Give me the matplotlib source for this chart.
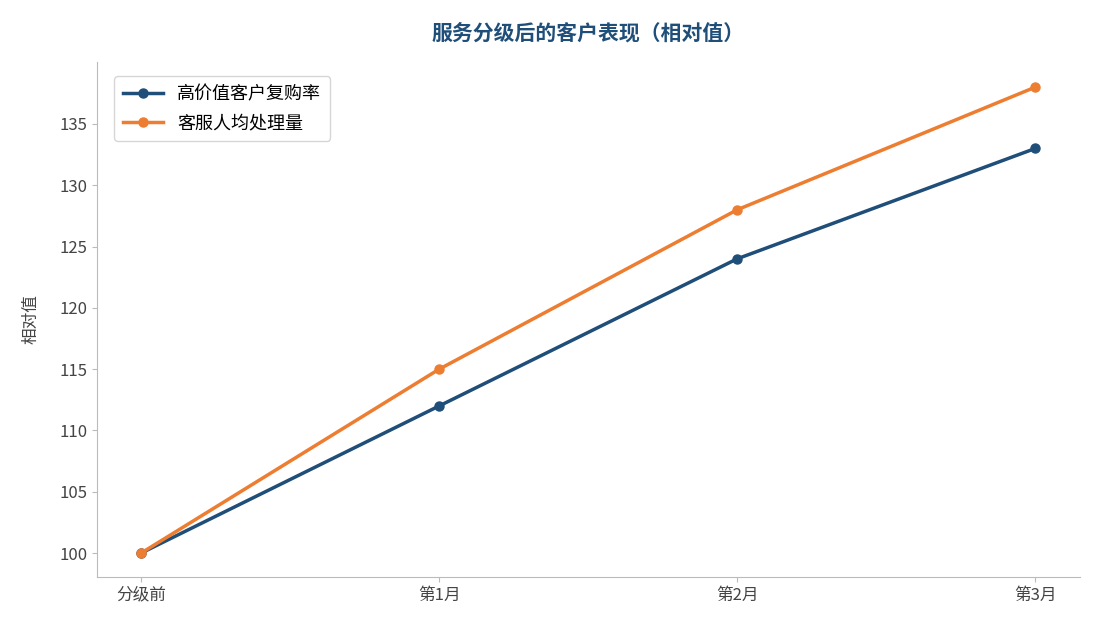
import matplotlib
matplotlib.use("Agg")
import matplotlib.pyplot as plt

plt.rcParams['font.family'] = ['Noto Sans CJK SC', 'DejaVu Sans']

categories = ["分级前", "第1月", "第2月", "第3月"]
repurchase = [100, 112, 124, 133]
handling = [100, 115, 128, 138]

fig = plt.figure(figsize=(10.95, 6.3), dpi=100)
ax = fig.add_axes([97/1095, 1-577/630, (1080-97)/1095, (577-62)/630])
x = range(len(categories))
ax.plot(x, repurchase, color="#1f4e79", lw=2.5, marker="o", ms=6.5, label="高价值客户复购率")
ax.plot(x, handling, color="#ed7d31", lw=2.5, marker="o", ms=6.5, label="客服人均处理量")
ax.set_xticks(list(x))
ax.set_xticklabels(categories)
ax.set_xlim(-0.148, 3.15)
ax.set_ylim(98.05, 140.05)
ax.set_yticks([100, 105, 110, 115, 120, 125, 130, 135])
for s in ["top", "right"]:
    ax.spines[s].set_visible(False)
for s in ["left", "bottom"]:
    ax.spines[s].set_color("#bbbbbb")
ax.tick_params(colors="#444444", labelsize=12)
ax.tick_params(axis="both", color="#bbbbbb")
ax.set_ylabel("相对值", fontsize=12, color="#444444", labelpad=14)
ax.set_title("服务分级后的客户表现（相对值）", fontsize=15, fontweight="bold", color="#1f4e79", pad=16)
ax.legend(loc="upper left", fontsize=13, frameon=True, edgecolor="#cccccc",
          borderpad=0.5, labelspacing=0.6, handlelength=2.2, bbox_to_anchor=(0.008, 0.99))
fig.savefig("out.png", dpi=100)
